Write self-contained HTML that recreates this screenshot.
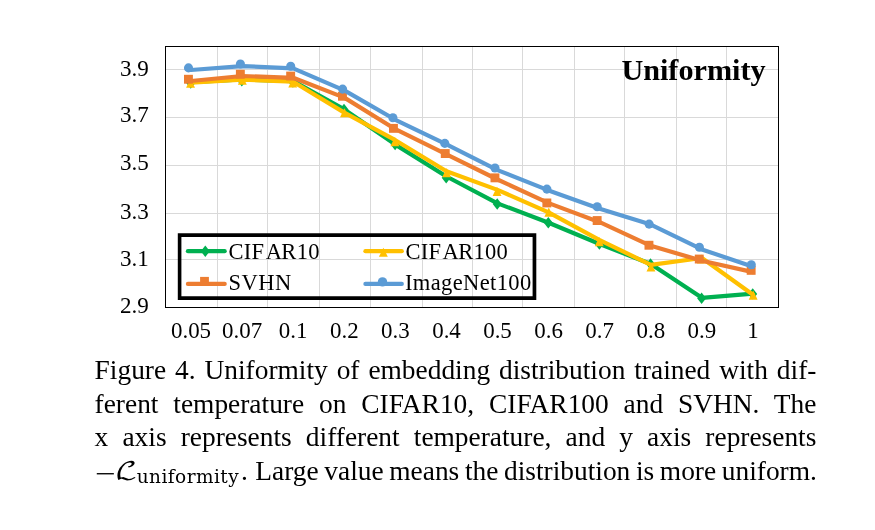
<!DOCTYPE html>
<html lang="en">
<head>
<meta charset="utf-8">
<title>Figure 4. Uniformity</title>
<style>
html,body{margin:0;padding:0;background:#fff;}
body{width:875px;height:530px;position:relative;overflow:hidden;font-family:"Liberation Serif",serif;color:#000;}
.cap{position:absolute;left:94.6px;top:0;width:721.8px;font-size:27.4px;line-height:33px;}
.ln{position:absolute;left:0;width:721.8px;height:33px;text-align:justify;text-align-last:justify;white-space:normal;}
.ln.last{text-align:left;text-align-last:left;white-space:nowrap;word-spacing:-1.2px;}
.math{display:inline-block;position:relative;width:146.4px;height:0;vertical-align:baseline;word-spacing:0;}
.math span{position:absolute;display:block;line-height:1;white-space:nowrap;}
.mn{left:0.3px;top:-19.5px;font-size:27.4px;transform:scaleX(1.34);transform-origin:0 50%;}
.cal{left:20.3px;top:-19.4px;font-family:"DejaVu Math TeX Gyre","DejaVu Sans",serif;font-size:23.8px;transform:scaleX(1.26);transform-origin:0 50%;}
.sub{left:42.1px;top:-12.2px;font-family:"DejaVu Serif","Liberation Serif",serif;font-size:18.5px;letter-spacing:0.45px;}
.dot{margin-right:1.8px;}
</style>
</head>
<body>
<svg width="875" height="530" viewBox="0 0 875 530" style="position:absolute;left:0;top:0">
<g fill="#D9D9D9" shape-rendering="crispEdges"><rect x="217" y="47" width="1" height="260"/><rect x="267" y="47" width="1" height="260"/><rect x="319" y="47" width="1" height="260"/><rect x="370" y="47" width="1" height="260"/><rect x="422" y="47" width="1" height="260"/><rect x="472" y="47" width="1" height="260"/><rect x="522" y="47" width="1" height="260"/><rect x="574" y="47" width="1" height="260"/><rect x="624" y="47" width="1" height="260"/><rect x="676" y="47" width="1" height="260"/><rect x="726" y="47" width="1" height="260"/><rect x="166" y="69" width="612" height="1"/><rect x="166" y="117" width="612" height="1"/><rect x="166" y="165" width="612" height="1"/><rect x="166" y="213" width="612" height="1"/><rect x="166" y="259" width="612" height="1"/></g>
<polyline points="191.0,82.1 242.1,79.5 293.2,81.1 344.3,109.4 395.4,144.6 446.5,176.5 497.5,203.4 548.6,222.7 599.7,244.0 650.8,264.0 701.9,297.8 753.0,293.7" fill="none" stroke="#00B050" stroke-width="4.2" stroke-linejoin="round" stroke-linecap="round"/>
<path d="M186.2 83.0L190.7 77.3L195.2 83.0L190.7 88.7Z" fill="#00B050"/><path d="M237.3 80.7L241.8 75.0L246.3 80.7L241.8 86.4Z" fill="#00B050"/><path d="M288.4 82.0L292.9 76.3L297.4 82.0L292.9 87.7Z" fill="#00B050"/><path d="M339.5 109.4L344.0 103.7L348.5 109.4L344.0 115.1Z" fill="#00B050"/><path d="M390.6 144.5L395.1 138.8L399.6 144.5L395.1 150.2Z" fill="#00B050"/><path d="M441.7 177.8L446.2 172.1L450.7 177.8L446.2 183.5Z" fill="#00B050"/><path d="M492.7 204.0L497.2 198.3L501.7 204.0L497.2 209.7Z" fill="#00B050"/><path d="M543.8 222.7L548.3 217.0L552.8 222.7L548.3 228.4Z" fill="#00B050"/><path d="M594.9 244.0L599.4 238.3L603.9 244.0L599.4 249.7Z" fill="#00B050"/><path d="M646.0 264.0L650.5 258.3L655.0 264.0L650.5 269.7Z" fill="#00B050"/><path d="M697.1 298.2L701.6 292.5L706.1 298.2L701.6 303.9Z" fill="#00B050"/><path d="M748.2 293.9L752.7 288.2L757.2 293.9L752.7 299.6Z" fill="#00B050"/>
<polyline points="191.0,82.7 242.1,79.6 293.2,81.7 344.3,112.6 395.4,140.2 446.5,171.3 497.5,189.9 548.6,212.4 599.7,240.2 650.8,264.8 701.9,258.0 753.0,294.8" fill="none" stroke="#FFC000" stroke-width="4.2" stroke-linejoin="round" stroke-linecap="round"/>
<path d="M186.1 87.8L190.5 78.8L195.0 87.8Z" fill="#FFC000"/><path d="M237.9 84.8L242.3 75.7L246.8 84.8Z" fill="#FFC000"/><path d="M288.3 87.5L292.7 78.5L297.2 87.5Z" fill="#FFC000"/><path d="M340.0 117.3L344.5 108.2L348.9 117.3Z" fill="#FFC000"/><path d="M390.4 146.2L394.9 137.1L399.3 146.2Z" fill="#FFC000"/><path d="M442.2 177.2L446.7 168.0L451.1 177.2Z" fill="#FFC000"/><path d="M492.6 196.0L497.0 186.8L501.5 196.0Z" fill="#FFC000"/><path d="M544.4 216.8L548.8 207.6L553.3 216.8Z" fill="#FFC000"/><path d="M594.8 246.2L599.2 237.1L603.7 246.2Z" fill="#FFC000"/><path d="M646.5 271.6L651.0 262.4L655.4 271.6Z" fill="#FFC000"/><path d="M696.9 263.6L701.4 254.4L705.8 263.6Z" fill="#FFC000"/><path d="M748.7 299.8L753.2 290.6L757.6 299.8Z" fill="#FFC000"/>
<polyline points="191.0,81.0 242.1,76.0 293.2,77.8 344.3,97.6 395.4,129.2 446.5,154.4 497.5,179.5 548.6,203.1 599.7,222.2 650.8,245.8 701.9,260.7 753.0,272.1" fill="none" stroke="#ED7D31" stroke-width="4.2" stroke-linejoin="round" stroke-linecap="round"/>
<rect x="184.0" y="74.8" width="8.9" height="8.9" fill="#ED7D31"/><rect x="235.9" y="69.8" width="8.9" height="8.9" fill="#ED7D31"/><rect x="286.2" y="71.6" width="8.9" height="8.9" fill="#ED7D31"/><rect x="338.0" y="91.8" width="8.9" height="8.9" fill="#ED7D31"/><rect x="389.0" y="123.9" width="8.9" height="8.9" fill="#ED7D31"/><rect x="440.8" y="149.1" width="8.9" height="8.9" fill="#ED7D31"/><rect x="490.5" y="173.4" width="8.9" height="8.9" fill="#ED7D31"/><rect x="542.4" y="198.5" width="8.9" height="8.9" fill="#ED7D31"/><rect x="592.7" y="216.1" width="8.9" height="8.9" fill="#ED7D31"/><rect x="644.5" y="240.8" width="8.9" height="8.9" fill="#ED7D31"/><rect x="694.8" y="254.6" width="8.9" height="8.9" fill="#ED7D31"/><rect x="746.7" y="265.9" width="8.9" height="8.9" fill="#ED7D31"/>
<polyline points="191.0,70.0 242.1,66.1 293.2,68.4 344.3,90.4 395.4,119.8 446.5,144.4 497.5,170.1 548.6,190.4 599.7,208.8 650.8,224.6 701.9,249.4 753.0,266.8" fill="none" stroke="#5B9BD5" stroke-width="4.2" stroke-linejoin="round" stroke-linecap="round"/>
<circle cx="188.5" cy="67.9" r="4.55" fill="#5B9BD5"/><circle cx="240.4" cy="64.0" r="4.55" fill="#5B9BD5"/><circle cx="290.7" cy="66.3" r="4.55" fill="#5B9BD5"/><circle cx="342.6" cy="89.1" r="4.55" fill="#5B9BD5"/><circle cx="392.9" cy="117.7" r="4.55" fill="#5B9BD5"/><circle cx="444.8" cy="143.4" r="4.55" fill="#5B9BD5"/><circle cx="495.0" cy="168.0" r="4.55" fill="#5B9BD5"/><circle cx="546.9" cy="189.1" r="4.55" fill="#5B9BD5"/><circle cx="597.2" cy="206.7" r="4.55" fill="#5B9BD5"/><circle cx="649.1" cy="224.1" r="4.55" fill="#5B9BD5"/><circle cx="699.4" cy="247.3" r="4.55" fill="#5B9BD5"/><circle cx="751.3" cy="264.7" r="4.55" fill="#5B9BD5"/>
<path d="M165 46H779V308H165ZM166 47V307H778V47Z" fill="#000" fill-rule="evenodd" shape-rendering="crispEdges"/>
<path d="M177.8 233.2H536.3V299.9H177.8ZM181.4 236.9V296.2H532.6V236.9Z" fill="#000" fill-rule="evenodd"/>
<line x1="187.9" y1="251.2" x2="224.7" y2="251.2" stroke="#00B050" stroke-width="4.2" stroke-linecap="round"/><path d="M200.8 251.3L205.3 245.6L209.8 251.3L205.3 257.0Z" fill="#00B050"/>
<line x1="187.9" y1="283.95" x2="224.7" y2="283.95" stroke="#ED7D31" stroke-width="4.2" stroke-linecap="round"/><rect x="200.1" y="276.9" width="8.8" height="8.8" fill="#ED7D31"/>
<line x1="365.4" y1="251.2" x2="401.8" y2="251.2" stroke="#FFC000" stroke-width="4.2" stroke-linecap="round"/><path d="M378.9 256.8L383.4 247.7L387.8 256.8Z" fill="#FFC000"/>
<line x1="365.4" y1="283.95" x2="401.8" y2="283.95" stroke="#5B9BD5" stroke-width="4.2" stroke-linecap="round"/><circle cx="382.5" cy="281.9" r="4.7" fill="#5B9BD5"/>
<g font-family="'Liberation Serif', serif" font-size="24.6" fill="#000" style="font-kerning:none"><text transform="translate(148.9 76.0) scale(0.9625 1)" text-anchor="end" font-size="24">3.9</text><text transform="translate(148.9 122.0) scale(0.9625 1)" text-anchor="end" font-size="24">3.7</text><text transform="translate(148.9 170.0) scale(0.9625 1)" text-anchor="end" font-size="24">3.5</text><text transform="translate(148.9 219.0) scale(0.9625 1)" text-anchor="end" font-size="24">3.3</text><text transform="translate(148.9 266.0) scale(0.9625 1)" text-anchor="end" font-size="24">3.1</text><text transform="translate(148.9 313.0) scale(0.9625 1)" text-anchor="end" font-size="24">2.9</text><text transform="translate(191.0 338.0) scale(0.956 1)" text-anchor="middle" font-size="24">0.05</text><text transform="translate(242.1 338.0) scale(0.956 1)" text-anchor="middle" font-size="24">0.07</text><text transform="translate(293.2 338.0) scale(0.956 1)" text-anchor="middle" font-size="24">0.1</text><text transform="translate(344.3 338.0) scale(0.956 1)" text-anchor="middle" font-size="24">0.2</text><text transform="translate(395.4 338.0) scale(0.956 1)" text-anchor="middle" font-size="24">0.3</text><text transform="translate(446.5 338.0) scale(0.956 1)" text-anchor="middle" font-size="24">0.4</text><text transform="translate(497.5 338.0) scale(0.956 1)" text-anchor="middle" font-size="24">0.5</text><text transform="translate(548.6 338.0) scale(0.956 1)" text-anchor="middle" font-size="24">0.6</text><text transform="translate(599.7 338.0) scale(0.956 1)" text-anchor="middle" font-size="24">0.7</text><text transform="translate(650.8 338.0) scale(0.956 1)" text-anchor="middle" font-size="24">0.8</text><text transform="translate(701.9 338.0) scale(0.956 1)" text-anchor="middle" font-size="24">0.9</text><text transform="translate(753.0 338.0) scale(0.956 1)" text-anchor="middle" font-size="24">1</text><text transform="translate(228.5 259.1) scale(1.015 1)" text-anchor="start" font-size="22.2" letter-spacing="0.25" dx="0 0 0 1.3 -0.8">CIFAR10</text><text transform="translate(228.5 290.0) scale(1.015 1)" text-anchor="start" font-size="22.2" letter-spacing="0.5">SVHN</text><text transform="translate(405.4 259.1) scale(1.015 1)" text-anchor="start" font-size="22.2" letter-spacing="0.25" dx="0 0 0 1.3 -0.8">CIFAR100</text><text transform="translate(405.0 290.0) scale(1.015 1)" text-anchor="start" font-size="22.2" letter-spacing="0.35">ImageNet100</text></g>
<text transform="translate(765.6 80.2) scale(1.0 1)" text-anchor="end" font-family="'Liberation Serif', serif" font-weight="bold" font-size="30.2" fill="#000">Uniformity</text>
</svg>
<div class="cap">
<div class="ln" style="top:354px">Figure 4. Uniformity of embedding distribution trained with dif-</div>
<div class="ln" style="top:388px">ferent temperature on CIFAR10, CIFAR100 and SVHN. The</div>
<div class="ln" style="top:421px">x axis represents different temperature, and y axis represents</div>
<div class="ln last" style="top:455px"><span class="math"><span class="mn">&minus;</span><span class="cal">&#x2112;</span><span class="sub">uniformity</span></span><span class="dot">.</span> Large value means the distribution is more uniform.</div>
</div>
</body>
</html>
